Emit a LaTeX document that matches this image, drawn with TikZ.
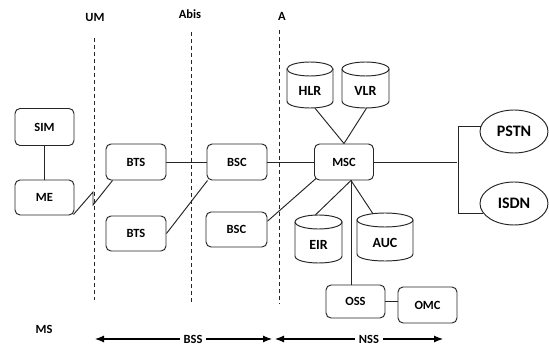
\documentclass[tikz,border=0pt]{standalone}
\usepackage{fontspec}
\setmainfont{Carlito}
\usetikzlibrary{arrows.meta,shapes.geometric}
\newcommand\dbcyl[6]{%
  \draw[ln] ({#2-#5},{#3+7}) -- ({#2-#5},{#4-7}) .. controls ({#2-#5},{#4+2.33}) and ({#2+#5},{#4+2.33}) .. ({#2+#5},{#4-7}) -- ({#2+#5},{#3+7});
  \draw[ln] (#2,{#3+7}) ellipse [x radius=#5, y radius=7];
  \node[minimum width={2*#5}, minimum height={#4-#3}, inner sep=0pt] (#1) at (#2,{(#3+#4)/2}) {};
  \node[cyltxt] (#1-t) at (#2,{(#3+#4)/2+6}) {#6};
}
\begin{document}
\begin{tikzpicture}[x=1pt,y=-1pt,
  ln/.style={draw=black!85,line width=0.95pt},
  box/.style={ln, rounded corners=5pt, minimum width=59pt, minimum height=35pt, inner sep=0pt, font=\fontsize{12.5}{14}\selectfont\bfseries},
  cyltxt/.style={inner sep=0pt, font=\fontsize{14}{16}\selectfont\bfseries},
  ell/.style={ln, ellipse, minimum width=68pt, minimum height=43pt, inner sep=0pt, font=\fontsize{16}{18}\selectfont\bfseries},
  lbl/.style={font=\fontsize{12.5}{14}\selectfont\bfseries, inner sep=1pt},
  ifc/.style={draw=black!85, line width=0.9pt, dash pattern=on 4pt off 3pt},
  arr/.style={draw=black, line width=1.1pt, arrows={Latex[length=9pt,width=7pt]-Latex[length=9pt,width=7pt]}}
]
\useasboundingbox (0,0) rectangle (549,347);

% interface lines
\node[lbl] (um) at (95,17) {UM};
\node[lbl] (abis) at (190,14) {Abis};
\node[lbl] (a) at (282,16) {A};
\coordinate (umt) at (94,38);   \coordinate (umb) at (94,300);
\coordinate (abt) at (191,32);  \coordinate (abb) at (191,303);
\coordinate (at) at (279,30);   \coordinate (ab) at (279,304);
\draw[ifc] (umt) -- (umb);
\draw[ifc] (abt) -- (abb);
\draw[ifc] (at) -- (ab);

% boxes
\node[box, minimum height=37pt] (sim) at (44.5,127) {SIM};
\node[box] (me) at (44.5,197.5) {ME};
\node[box, minimum width=60pt, minimum height=36pt] (bts1) at (136,162) {BTS};
\node[box, minimum width=60pt] (bts2) at (136,233.5) {BTS};
\node[box, minimum width=60pt, minimum height=36pt] (bsc1) at (237,162) {BSC};
\node[box, minimum width=61pt] (bsc2) at (236.5,229.5) {BSC};
\node[box, minimum height=36pt] (msc) at (344,162) {MSC};
\node[box, minimum height=33pt] (oss) at (355.5,301.5) {OSS};
\node[box, minimum height=36pt] (omc) at (427.5,305) {OMC};

% databases
\dbcyl{hlr}{310}{62}{108}{23}{HLR}
\dbcyl{vlr}{365.5}{62}{108}{23.5}{VLR}
\dbcyl{eir}{318.5}{215}{263}{23.5}{EIR}
\dbcyl{auc}{385}{213}{261}{28}{AUC}

% networks
\node[ell] (pstn) at (514,131.5) {PSTN};
\node[ell] (isdn) at (514,203.5) {ISDN};

% connectors
\draw[ln] (sim) -- (me);
\coordinate (z1) at (93,192);
\coordinate (z2) at (93,205);
\draw[ln] ([xshift=-1pt,yshift=1pt]me.south east) -- (z1) -- (z2) -- ([xshift=7pt]bts1.south west);
\draw[ln] (bts1) -- (bsc1);
\draw[ln] (bts2.east) -- ([xshift=1pt]bsc1.south west);
\draw[ln] (bsc1) -- (msc);
\draw[ln] (bsc2.15) -- ([xshift=2pt,yshift=2pt]msc.south west);
\draw[ln] ([xshift=5pt]hlr.south) -- (msc.north);
\draw[ln] ([xshift=1pt]vlr.south) -- (msc.north);
\coordinate (mscb) at ([xshift=7pt]msc.south);
\draw[ln] (mscb) -- ([xshift=-3pt]eir.north);
\draw[ln] (mscb) -- ([xshift=-12pt,yshift=-1pt]auc.north);
\draw[ln] (mscb) -- (mscb |- oss.north);
\draw[ln] (oss.east) -- (oss.east -| omc.west);
\coordinate (brk) at (457,162);
\draw[ln] (msc.east) -- (brk);
\draw[ln] (pstn.171) -- ++(-22,0) |- (isdn.197);

% domains
\node[lbl] (ms) at (44,329) {MS};
\coordinate (bssl) at (95,339);  \coordinate (bssr) at (272,339);
\coordinate (nssl) at (275,339); \coordinate (nssr) at (443,339);
\draw[arr] (bssl) -- (bssr);
\draw[arr] (nssl) -- (nssr);
\node[lbl, fill=white, inner xsep=4pt] (bss) at (193,339) {BSS};
\node[lbl, fill=white, inner xsep=4pt] (nss) at (369,339) {NSS};
\end{tikzpicture}
\end{document}
